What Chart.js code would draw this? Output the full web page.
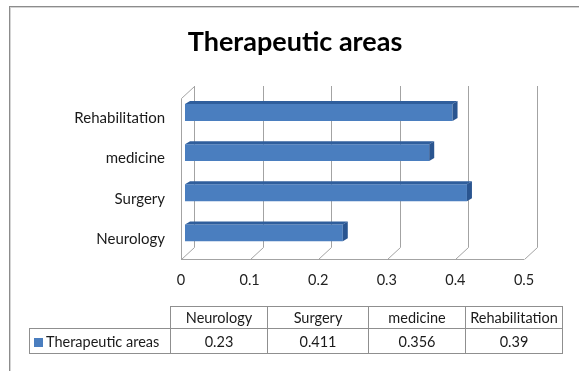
<!DOCTYPE html>
<html>
<head>
<meta charset="utf-8">
<script src="https://cdn.jsdelivr.net/npm/chart.js@4/dist/chart.umd.min.js"></script>
<style>
  html, body { margin: 0; padding: 0; background: #fff; overflow: hidden; }
  #wrap { position: relative; width: 579px; height: 371px; overflow: hidden; }
  #frame { position: absolute; left: 9px; top: 6px; width: 640px; height: 440px;
           border-left: 1px solid #8c8c8c; border-top: 1px solid #8c8c8c;
           box-shadow: inset 1px 1px 0 #d4d4d4; }
  canvas { position: absolute; left: 0; top: 0; }
  #datatable { position: absolute; left: 29px; top: 306px; border-collapse: collapse;
               table-layout: fixed; font: 14.5px Lato, "Open Sans", sans-serif; color: #1a1a1a; }
  #datatable td { border: 1px solid #8f8f8f; text-align: center; padding: 0; white-space: nowrap; overflow: hidden; }
  #datatable tr.head td { height: 21px; }
  #datatable tr.vals td { height: 24px; }
  #datatable td.corner { border-top: none; border-left: none; }
  #datatable td.series { text-align: left; padding-left: 4px; }
  .key { display: inline-block; width: 9px; height: 9px; margin-right: 3px; vertical-align: 0px; }
</style>
</head>
<body>
<div id="wrap">
  <div id="frame"></div>
  <canvas id="chart" width="579" height="371"></canvas>
  <table id="datatable"></table>
</div>
<script>
// Therapeutic areas share
const chartTitle = 'Therapeutic areas';
const seriesName = 'Therapeutic areas';
const categories = ['Neurology', 'Surgery', 'medicine', 'Rehabilitation'];
const values = [0.23, 0.411, 0.356, 0.39];
const valueTicks = [0, 0.1, 0.2, 0.3, 0.4, 0.5];

const barColor = '#4A7EBF';
const barTopColor = '#2F5E9C';
const barEndColor = '#2A5590';
const gridColor = '#A3A3A3';

// Depth of the back wall and of each bar, in pixels
const WALL_DX = 13, WALL_DY = -12;
const BAR_SHIFT_X = 4, BAR_SHIFT_Y = -6;
const BAR_DX = 5, BAR_DY = -3;

// Draws the floor, back wall grid and left wall, then gives the bars a top and end face
const depthPlugin = {
  id: 'depth3d',
  beforeDatasetsDraw(chart) {
    const { ctx, chartArea, scales } = chart;
    const { left, right, top, bottom } = chartArea;
    const x = scales.x;
    ctx.save();
    ctx.strokeStyle = gridColor;
    ctx.lineWidth = 1;
    ctx.beginPath();
    const yb = Math.round(bottom) + 0.5;
    ctx.moveTo(left, yb);
    ctx.lineTo(right, yb);
    valueTicks.forEach(v => {
      const px = Math.round(x.getPixelForValue(v)) + 0.5;
      ctx.moveTo(px, yb);
      ctx.lineTo(px + WALL_DX, yb + WALL_DY);
      ctx.lineTo(px + WALL_DX, Math.round(top) + WALL_DY);
    });
    const lx = Math.round(left) + 0.5;
    ctx.moveTo(lx, yb);
    ctx.lineTo(lx, Math.round(top) + 0.5);
    ctx.lineTo(lx + WALL_DX, Math.round(top) + 0.5 + WALL_DY);
    ctx.stroke();
    ctx.restore();

    ctx.save();
    ctx.translate(BAR_SHIFT_X, BAR_SHIFT_Y);
  },
  afterDatasetsDraw(chart) {
    const ctx = chart.ctx;
    chart.getDatasetMeta(0).data.forEach(bar => {
      const { x, y, base, height } = bar.getProps(['x', 'y', 'base', 'height'], true);
      const t = y - height / 2, b = y + height / 2;
      ctx.fillStyle = barTopColor;
      ctx.beginPath();
      ctx.moveTo(base, t);
      ctx.lineTo(x, t);
      ctx.lineTo(x + BAR_DX, t + BAR_DY);
      ctx.lineTo(base + BAR_DX, t + BAR_DY);
      ctx.closePath();
      ctx.fill();
      ctx.fillStyle = barEndColor;
      ctx.beginPath();
      ctx.moveTo(x, t);
      ctx.lineTo(x + BAR_DX, t + BAR_DY);
      ctx.lineTo(x + BAR_DX, b + BAR_DY);
      ctx.lineTo(x, b);
      ctx.closePath();
      ctx.fill();
    });
    ctx.restore();
  }
};

const labelFont = { family: 'Lato', size: 15 };

new Chart(document.getElementById('chart'), {
  type: 'bar',
  data: {
    labels: categories,
    datasets: [{
      label: seriesName,
      data: values,
      backgroundColor: barColor,
      borderWidth: 0,
      barPercentage: 0.42,
      categoryPercentage: 1
    }]
  },
  options: {
    indexAxis: 'y',
    responsive: false,
    animation: false,
    layout: { padding: { left: 66, right: 55, top: 10, bottom: 82 } },
    plugins: {
      legend: { display: false },
      tooltip: { enabled: false },
      title: {
        display: true,
        text: chartTitle,
        color: '#000',
        font: { family: 'Lato', size: 27, weight: 'bold' },
        padding: { top: 16, bottom: 40 }
      }
    },
    scales: {
      x: {
        min: 0,
        max: 0.5,
        grid: { display: false, drawTicks: false },
        border: { display: false },
        afterBuildTicks(scale) { scale.ticks = valueTicks.map(v => ({ value: v })); },
        afterFit(scale) { scale.height = 30; },
        ticks: { padding: 13, color: '#222', font: { family: 'Lato', size: 14.5 }, callback: v => String(v) }
      },
      y: {
        reverse: true,
        grid: { display: false, drawTicks: false },
        border: { display: false },
        afterFit(scale) { scale.width = 115; },
        ticks: { padding: 16, color: '#1a1a1a', font: labelFont }
      }
    }
  },
  plugins: [depthPlugin]
});

// Data table under the chart
const table = document.getElementById('datatable');
const colWidths = [141, 97, 101, 97, 97];
const colgroup = document.createElement('colgroup');
colWidths.forEach(w => { const c = document.createElement('col'); c.style.width = w + 'px'; colgroup.appendChild(c); });
table.appendChild(colgroup);
const head = document.createElement('tr');
head.className = 'head';
const corner = document.createElement('td');
corner.className = 'corner';
head.appendChild(corner);
categories.forEach(c => { const td = document.createElement('td'); td.textContent = c; head.appendChild(td); });
table.appendChild(head);
const row = document.createElement('tr');
row.className = 'vals';
const nameCell = document.createElement('td');
nameCell.className = 'series';
const key = document.createElement('span');
key.className = 'key';
key.style.background = barColor;
nameCell.appendChild(key);
nameCell.appendChild(document.createTextNode(seriesName));
row.appendChild(nameCell);
values.forEach(v => { const td = document.createElement('td'); td.textContent = String(v); row.appendChild(td); });
table.appendChild(row);
</script>
</body>
</html>
